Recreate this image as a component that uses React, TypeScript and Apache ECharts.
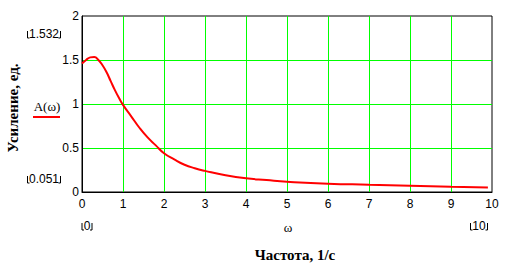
import React, { useEffect, useRef } from "react";
import * as echarts from "echarts";

const omega = [0, 0.1, 0.2, 0.3, 0.4, 0.5, 0.6, 0.7, 0.8, 0.9, 1.0, 1.2, 1.4, 1.6, 1.8, 2.0, 2.25, 2.5, 2.75, 3.0, 3.5, 4.0, 4.5, 5.0, 6.0, 7.0, 8.0, 9.0, 9.9];
const gain = [1.46, 1.5, 1.53, 1.535, 1.5, 1.44, 1.36, 1.26, 1.16, 1.07, 0.99, 0.86, 0.73, 0.62, 0.53, 0.44, 0.37, 0.31, 0.27, 0.24, 0.19, 0.155, 0.135, 0.117, 0.094, 0.083, 0.072, 0.06, 0.052];
const yTitle = "Усиление, ед.";
const xTitle = "Частота, 1/с";
const legendText = "A(ω)";
const xVar = "ω";
const yMaxLabel = "1.532";
const yMinLabel = "0.051";
const xMinLabel = "0";
const xMaxLabel = "10";

const sans = "'Liberation Sans', Arial, sans-serif";
const serif = "'Liberation Serif', 'Times New Roman', serif";

function bracket(cx: number, cy: number, w: number): any[] {
  // Mathcad-style corner marks around a limit label
  const l = cx - w / 2;
  const r = cx + w / 2;
  return [
    { type: "polyline", shape: { points: [[l, cy - 3], [l, cy + 4], [l + 2, cy + 4]] }, style: { stroke: "#000", lineWidth: 1, fill: "none" } },
    { type: "polyline", shape: { points: [[r - 2, cy + 4], [r, cy + 4], [r, cy - 3]] }, style: { stroke: "#000", lineWidth: 1, fill: "none" } },
  ];
}

export default function App() {
  const ref = useRef<HTMLDivElement>(null);
  useEffect(() => {
    if (!ref.current) return;
    const chart = echarts.init(ref.current, null, { renderer: "svg" });
    const data = omega.map((w, i) => [w, gain[i]]);
    chart.setOption({
      animation: false,
      backgroundColor: "#ffffff",
      grid: { left: 82, top: 16, width: 410, height: 176, show: true, borderColor: "#000", borderWidth: 1, backgroundColor: "transparent" },
      xAxis: {
        type: "value", min: 0, max: 10, interval: 1,
        axisLine: { show: true, onZero: false, lineStyle: { color: "#000", width: 1 } },
        axisTick: { show: false },
        axisLabel: { color: "#000", fontFamily: sans, fontSize: 12, margin: 6 },
        splitLine: { show: true, showMinLine: false, showMaxLine: false, lineStyle: { color: "#00ff00", width: 1 } },
      },
      yAxis: {
        type: "value", min: 0, max: 2, interval: 0.5,
        axisLine: { show: true, lineStyle: { color: "#000", width: 1 } },
        axisTick: { show: false },
        axisLabel: { color: "#000", fontFamily: sans, fontSize: 12, margin: 3 },
        splitLine: { show: true, showMinLine: false, showMaxLine: false, lineStyle: { color: "#00ff00", width: 1 } },
      },
      series: [
        {
          type: "line", data, smooth: true, showSymbol: false, symbol: "none",
          lineStyle: { color: "#ff0000", width: 2 }, itemStyle: { color: "#ff0000" }, z: 5,
        },
      ],
      graphic: [
        { type: "text", x: 13, y: 108, rotation: Math.PI / 2, style: { text: yTitle, font: `bold 15px ${serif}`, fill: "#000", align: "center", verticalAlign: "middle" } },
        { type: "text", x: 47, y: 106, style: { text: legendText, font: `13px ${serif}`, fill: "#000", align: "center", verticalAlign: "middle" } },
        { type: "line", shape: { x1: 33, y1: 117, x2: 60, y2: 117 }, style: { stroke: "#ff0000", lineWidth: 2 } },
        { type: "text", x: 44, y: 34, style: { text: yMaxLabel, font: `12px ${sans}`, fill: "#000", align: "center", verticalAlign: "middle" } },
        ...bracket(44, 34, 33),
        { type: "text", x: 44, y: 179, style: { text: yMinLabel, font: `12px ${sans}`, fill: "#000", align: "center", verticalAlign: "middle" } },
        ...bracket(44, 179, 33),
        { type: "text", x: 87, y: 226, style: { text: xMinLabel, font: `12px ${sans}`, fill: "#000", align: "center", verticalAlign: "middle" } },
        ...bracket(87, 226, 10),
        { type: "text", x: 288, y: 227, style: { text: xVar, font: `13px ${serif}`, fill: "#000", align: "center", verticalAlign: "middle" } },
        { type: "text", x: 479, y: 226, style: { text: xMaxLabel, font: `12px ${sans}`, fill: "#000", align: "center", verticalAlign: "middle" } },
        ...bracket(479, 226, 17),
        { type: "text", x: 295, y: 255, style: { text: xTitle, font: `bold 15px ${serif}`, fill: "#000", align: "center", verticalAlign: "middle" } },
      ],
    });
    return () => chart.dispose();
  }, []);
  return <div ref={ref} style={{ position: "fixed", left: 0, top: 0, width: 512, height: 269 }} />;
}
